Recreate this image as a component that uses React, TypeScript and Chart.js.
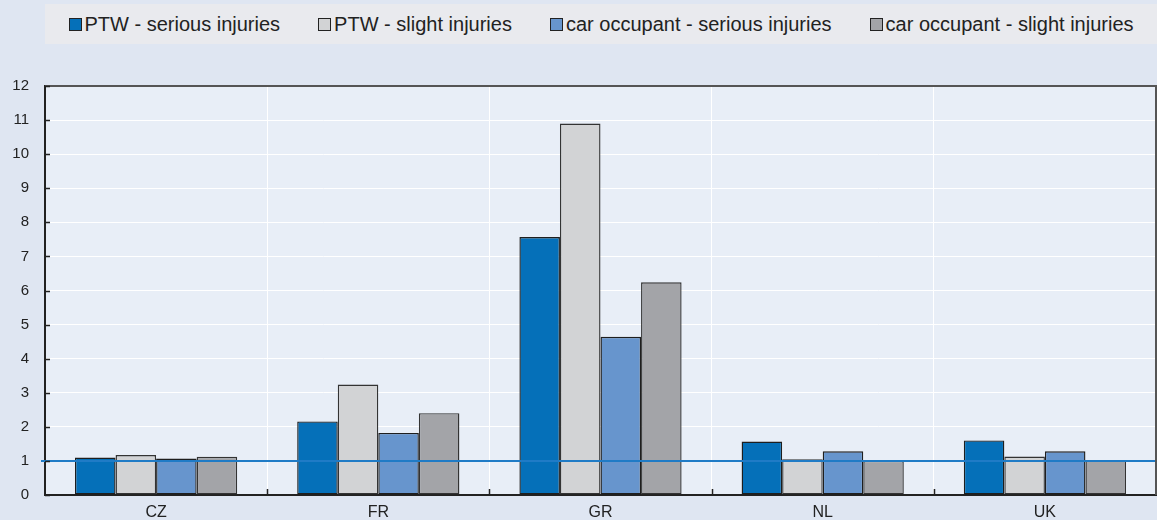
import React, { useEffect, useRef } from "react";
import { Chart, registerables } from "chart.js";

Chart.register(...registerables);

const categories = ["CZ", "FR", "GR", "NL", "UK"];
const seriesNames = [
  "PTW - serious injuries",
  "PTW - slight injuries",
  "car occupant - serious injuries",
  "car occupant - slight injuries",
];
const ptwSerious = [1.1, 2.16, 7.57, 1.57, 1.6];
const ptwSlight = [1.17, 3.24, 10.9, 1.05, 1.13];
const carSerious = [1.07, 1.82, 4.64, 1.28, 1.28];
const carSlight = [1.12, 2.4, 6.24, 1.0, 1.02];
const referenceValue = 1;
const yTicks = [0, 1, 2, 3, 4, 5, 6, 7, 8, 9, 10, 11, 12];

const colors = ["#0570b9", "#d2d3d5", "#6795cd", "#a3a4a8"];
const FONT = "'Liberation Sans', Arial, sans-serif";

const extrasPlugin = {
  id: "extras",
  beforeDraw(chart: any) {
    const { ctx, chartArea } = chart;
    ctx.save();
    ctx.fillStyle = "#e8eef7";
    ctx.fillRect(chartArea.left, chartArea.top, chartArea.right - chartArea.left, chartArea.bottom - chartArea.top);
    ctx.restore();
  },
  afterDatasetsDraw(chart: any) {
    const { ctx, chartArea, scales } = chart;
    const y = scales.y;
    const x = scales.x;
    ctx.save();
    const yr = y.getPixelForValue(referenceValue);
    ctx.strokeStyle = "#1f7bc6";
    ctx.lineWidth = 2;
    ctx.beginPath();
    ctx.moveTo(chartArea.left - 4, yr);
    ctx.lineTo(chart.width, yr);
    ctx.stroke();
    ctx.strokeStyle = "#555";
    ctx.lineWidth = 2;
    ctx.beginPath();
    ctx.moveTo(chartArea.left, chartArea.top);
    ctx.lineTo(chartArea.right, chartArea.top);
    ctx.lineTo(chartArea.right, chartArea.bottom);
    ctx.stroke();
    ctx.strokeStyle = "#222";
    ctx.lineWidth = 1.5;
    ctx.beginPath();
    for (const v of yTicks) {
      const py = Math.round(y.getPixelForValue(v)) + 0.5;
      ctx.moveTo(chartArea.left, py);
      ctx.lineTo(chartArea.left + 5, py);
    }
    for (let i = 1; i < categories.length; i++) {
      const px = Math.round((x.getPixelForValue(i - 1) + x.getPixelForValue(i)) / 2) + 0.5;
      ctx.moveTo(px, chartArea.bottom);
      ctx.lineTo(px, chartArea.bottom - 6);
    }
    ctx.stroke();
    ctx.restore();
  },
};

export default function App() {
  const ref = useRef<HTMLCanvasElement>(null);
  useEffect(() => {
    document.body.style.margin = "0";
    const seriesData = [ptwSerious, ptwSlight, carSerious, carSlight];
    const chart = new Chart(ref.current!, {
      type: "bar",
      data: {
        labels: categories,
        datasets: seriesNames.map((name, i) => ({
          label: name,
          data: seriesData[i],
          backgroundColor: colors[i],
          borderColor: i === 1 || i === 3 ? "#333" : "#1e1e1e",
          borderWidth: 1.4,
          borderSkipped: false,
          categoryPercentage: 0.73,
          barPercentage: 1,
        })),
      },
      options: {
        animation: false,
        responsive: false,
        maintainAspectRatio: false,
        layout: { padding: { top: 86, right: 1, left: 0, bottom: 0 } },
        plugins: {
          legend: { display: false },
          tooltip: { enabled: false },
        },
        scales: {
          x: {
            grid: { offset: true, color: "#ffffff", lineWidth: 1, drawTicks: false },
            border: { color: "#222", width: 2 },
            ticks: { color: "#222", font: { family: FONT, size: 16 }, padding: 8 },
            afterFit: (s: any) => { s.height = 22; },
          },
          y: {
            min: 0,
            max: 12,
            grid: { color: "#ffffff", lineWidth: 1, drawTicks: false },
            border: { color: "#222", width: 2 },
            ticks: { stepSize: 1, color: "#222", font: { family: FONT, size: 15 }, padding: 16 },
            afterFit: (s: any) => { s.width = 45; },
          },
        },
      },
      plugins: [extrasPlugin],
    });
    return () => chart.destroy();
  }, []);

  return (
    <div style={{ position: "fixed", left: 0, top: 0, width: 1157, height: 520, background: "#dfe6f2" }}>
      <canvas ref={ref} width={1157} height={520} style={{ position: "absolute", left: 0, top: 0 }} />
      <div
        style={{
          position: "absolute",
          left: 45,
          top: 4,
          width: 1112,
          height: 40,
          background: "#e9eaee",
          display: "flex",
          alignItems: "center",
          justifyContent: "center",
          gap: 38,
          fontFamily: FONT,
          fontSize: 20,
          color: "#222",
        }}
      >
        {seriesNames.map((n, i) => (
          <div key={n} style={{ display: "flex", alignItems: "center" }}>
            <span
              style={{
                display: "inline-block",
                width: 11,
                height: 11,
                background: colors[i],
                border: "1px solid #222",
                marginRight: 3,
              }}
            />
            <span style={{ whiteSpace: "nowrap" }}>{n}</span>
          </div>
        ))}
      </div>
    </div>
  );
}
